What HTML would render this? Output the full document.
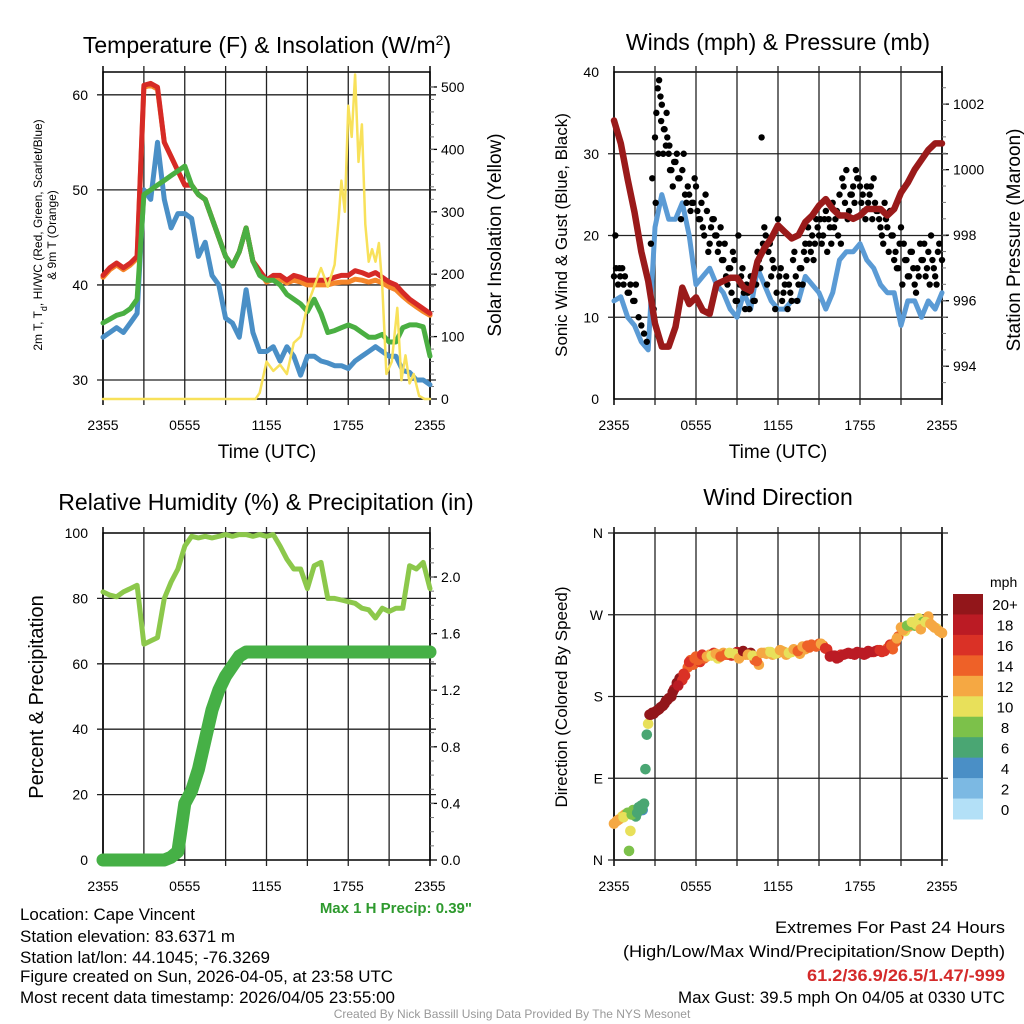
<!DOCTYPE html>
<html><head><meta charset="utf-8"><style>
html,body{margin:0;padding:0;background:#fff;}
svg{display:block;font-family:"Liberation Sans",Arial,sans-serif;}
</style></head><body>
<svg id="s" width="1024" height="1024" viewBox="0 0 1024 1024" xmlns="http://www.w3.org/2000/svg">
<g id="g1"></g>
<g id="g2"></g>
<g id="g3"></g>
<g id="g4"></g>
<g font-size="23" text-anchor="middle">
<text x="267" y="53">Temperature (F) &amp; Insolation (W/m<tspan font-size="14" baseline-shift="super">2</tspan>)</text>
<text x="778" y="50">Winds (mph) &amp; Pressure (mb)</text>
<text x="266" y="510">Relative Humidity (%) &amp; Precipitation (in)</text>
<text x="778" y="505">Wind Direction</text>
</g>
<g text-anchor="middle">
<text transform="translate(42,235) rotate(-90)" font-size="12">2m T, T<tspan font-size="9" baseline-shift="sub">d</tspan>, HI/WC (Red, Green, Scarlet/Blue)</text>
<text transform="translate(56,235) rotate(-90)" font-size="12">&amp; 9m T (Orange)</text>
<text transform="translate(501,235) rotate(-90)" font-size="19">Solar Insolation (Yellow)</text>
<text x="267" y="458" font-size="19">Time (UTC)</text>
<text transform="translate(567,235) rotate(-90)" font-size="17">Sonic Wind &amp; Gust (Blue, Black)</text>
<text transform="translate(1020,240) rotate(-90)" font-size="19">Station Pressure (Maroon)</text>
<text x="778" y="458" font-size="19">Time (UTC)</text>
<text transform="translate(43,697) rotate(-90)" font-size="20">Percent &amp; Precipitation</text>
<text transform="translate(567,697) rotate(-90)" font-size="17">Direction (Colored By Speed)</text>
</g>
<text x="472" y="913" font-size="15" font-weight="bold" fill="#2e9a2e" text-anchor="end">Max 1 H Precip: 0.39"</text>
<g font-size="17">
<text x="20" y="920" textLength="175" lengthAdjust="spacingAndGlyphs">Location: Cape Vincent</text>
<text x="20" y="942" textLength="215" lengthAdjust="spacingAndGlyphs">Station elevation: 83.6371 m</text>
<text x="20" y="963" textLength="250" lengthAdjust="spacingAndGlyphs">Station lat/lon: 44.1045; -76.3269</text>
<text x="20" y="982" textLength="373" lengthAdjust="spacingAndGlyphs">Figure created on Sun, 2026-04-05, at 23:58 UTC</text>
<text x="20" y="1003" textLength="375" lengthAdjust="spacingAndGlyphs">Most recent data timestamp: 2026/04/05 23:55:00</text>
</g>
<g font-size="17" text-anchor="end">
<text x="1005" y="933" textLength="230" lengthAdjust="spacingAndGlyphs">Extremes For Past 24 Hours</text>
<text x="1005" y="957" textLength="382" lengthAdjust="spacingAndGlyphs">(High/Low/Max Wind/Precipitation/Snow Depth)</text>
<text x="1005" y="981" font-weight="bold" fill="#d42a2a" textLength="198" lengthAdjust="spacingAndGlyphs">61.2/36.9/26.5/1.47/-999</text>
<text x="1005" y="1003" textLength="327" lengthAdjust="spacingAndGlyphs">Max Gust: 39.5 mph On 04/05 at 0330 UTC</text>
</g>
<text x="512" y="1018" font-size="12" fill="#999" text-anchor="middle">Created By Nick Bassill Using Data Provided By The NYS Mesonet</text>
</svg>
<script>
// ---- data ----
const hours = [0,0.5,1,1.5,2,2.5,3,3.5,4,4.5,5,5.5,6,6.5,7,7.5,8,8.5,9,9.5,10,10.5,11,11.5,12,12.5,13,13.5,14,14.5,15,15.5,16,16.5,17,17.5,18,18.5,19,19.5,20,20.5,21,21.5,22,22.5,23,23.5,24];
const timeTicks = ["2355","0555","1155","1755","2355"];
const tempT = [41,41.8,42.3,41.8,42.3,43,61,61.2,60.8,55,53.5,52,50.5,50.5,49.5,49,47,45,43,42,43.5,46,42.5,41.5,40.5,41,41,40.5,41,40.8,40.5,40.5,40.5,40.5,40.8,41,41,41.5,41.3,41,41.3,40.8,40.3,40,39.2,38.5,38,37.5,37];
const temp9m = [40.8,41.6,42.1,41.6,42.1,42.8,60.8,61,60.6,55,53.5,52,50.5,50.5,49.5,49,47,45,43,42,43.5,46,42.5,41.5,40.3,40.6,40.6,40.2,40.5,40.3,40,40,40,40,40.2,40.3,40.3,40.6,40.5,40.3,40.5,40.2,39.8,39.5,38.8,38.2,37.7,37.2,36.8];
const tempHI = [36,36.4,36.8,37,37.5,38.5,49.5,50,50.5,51,51.5,52,52.5,50.5,49.5,49,47,45,43,42,43.5,46,42.5,41,40.5,40.5,40,39,38.5,38,37.2,38.5,37,35,35.2,35.5,35.8,35.5,35,34.5,34.5,34.8,34,34,35.5,35.8,35.8,35.6,32.5];
const tempTd = [34.5,35,35.5,35,36,37,50,49,55,49,46,47.5,47.5,47,43,44.5,41,40,36.5,36,34.5,39.5,35,33,33,33.5,32,33.5,32.5,30.5,32.5,32.5,32,31.8,31.5,31.5,31.2,32,32.5,33,33.5,33,32.5,32.5,31,30.8,30,30,29.5];
const solarHours = [0,11.2,11.5,12,12.5,13,13.5,14,14.5,15,15.5,16,16.5,17,17.3,17.5,17.75,18,18.25,18.5,18.75,19,19.25,19.5,19.75,20,20.25,20.5,20.8,21.2,21.6,21.9,22.2,22.5,22.8,23.2,23.6,24];
const solar = [0,0,10,60,45,55,40,90,100,150,180,210,180,215,290,350,300,470,420,520,380,440,280,220,240,220,250,180,40,60,146,30,70,25,40,5,0,0];
const wind = [12,12.5,10,9,7,6,21,25,22,22,24,20,14,15,16,14,13,11,10,13,11,16,14,12,11,11,12,12,15,14,13,11,13,17,18,18,19,17,16,14,13,13,9,12,12,10,12,11,13];
const pressure = [1001.5,1000.8,999.7,998.7,997.5,996.6,995.3,994.6,994.6,995.2,996.4,995.9,996.1,995.7,995.6,996.5,996.6,996.7,996.7,996.4,996.3,997.2,997.6,997.9,998.3,998.1,997.9,998,998.4,998.6,998.9,999.1,998.8,998.6,998.6,998.5,998.6,998.8,998.8,998.8,998.6,998.8,999.3,999.6,1000,1000.3,1000.6,1000.8,1000.8];
const gustHours = [0,0.15,0.3,0.45,0.6,0.8,1,1.2,1.4,1.6,1.8,2,2.2,2.4,2.7,2.8,3,3.1,3.2,3.3,3.4,3.5,3.6,3.7,3.8,3.9,4,4.1,4.3,4.5,4.7,4.9,5.1,5.3,5.5,5.7,5.9,6.1,6.3,6.5,6.7,6.9,7.1,7.3,7.5,7.7,7.9,8.1,8.3,8.5,8.7,8.9,9.1,9.3,9.5,9.7,9.9,10.1,10.3,10.5,10.7,10.8,11,11.2,11.4,11.6,11.8,12,12.2,12.4,12.6,12.8,13,13.2,13.4,13.6,13.8,14,14.2,14.4,14.6,14.8,15,15.2,15.4,15.6,15.8,16,16.2,16.4,16.6,16.8,17,17.2,17.4,17.6,17.8,18,18.2,18.4,18.6,18.8,19,19.2,19.4,19.6,19.8,20,20.2,20.4,20.6,20.8,21,21.2,21.4,21.6,21.8,22,22.2,22.4,22.6,22.8,23,23.2,23.4,23.6,23.8,24,
0.1,0.4,0.7,1.1,1.5,2.9,3.05,3.25,3.45,3.65,3.85,4.05,4.2,4.4,4.6,4.8,5,5.2,5.4,5.6,5.8,6,6.2,6.4,6.6,6.8,7,7.2,7.4,7.6,7.8,8,8.2,8.4,8.6,8.8,9,9.2,9.4,9.6,9.8,10,10.2,10.4,10.6,10.9,11.1,11.3,11.5,11.7,11.9,12.1,12.3,12.5,12.7,12.9,13.1,13.3,13.5,13.7,13.9,14.1,14.3,14.5,14.7,14.9,15.1,15.3,15.5,15.7,15.9,16.1,16.3,16.5,16.7,16.9,17.1,17.3,17.5,17.7,17.9,18.1,18.3,18.5,18.7,18.9,19.1,19.3,19.5,19.7,19.9,20.1,20.3,20.5,20.7,20.9,21.1,21.3,21.5,21.7,21.9,22.1,22.3,22.5,22.7,22.9,23.1,23.3,23.5,23.7,23.9];
const gust = [15,16,14,15,16,15,13,14,12,14,10,9,8,7,19,27,32,35,38,39,37,36,30,33,31,32,30,28,26,29,27,22,30,24,25,24,27,23,22,21,25,18,21,22,20,19,17,19,14,16,18,12,20,15,13,14,11,15,12,18,16,32,21,14,19,17,11,22,16,13,15,14,12,18,12,16,14,19,21,18,17,22,20,19,22,18,21,24,22,20,19,26,28,23,25,24,27,26,25,22,24,26,27,23,22,20,24,21,23,20,18,16,21,19,17,15,18,14,16,19,17,15,18,20,16,14,19,17,20,
16,14,13,12,11,24,30,34,33,35,31,28,29,30,27,28,25,26,23,24,26,22,24,20,23,19,22,20,18,21,17,15,16,13,17,12,14,16,11,13,15,12,14,17,19,20,18,15,16,13,15,12,14,11,13,17,15,14,16,18,17,19,20,19,21,22,20,23,22,19,21,23,25,27,24,22,25,26,28,27,24,23,26,25,22,24,23,21,19,22,18,20,17,16,19,14,17,15,18,16,13,15,17,19,16,14,17,15,18];
const rh = [82,81,80.5,82,83,84,66,67,68,80,85,89,96,99,98.5,99,98.5,99,99.5,99,99.5,99.5,99,99.5,99,99.5,96,92,89,89,83,90,91,80,80,79.5,79,78.5,77,76.5,74,77,76,77,77,90,89,91,83];
const precip = [0,0,0,0,0,0,0,0,0,0,0.02,0.06,0.4,0.49,0.64,0.85,1.06,1.2,1.3,1.37,1.44,1.47,1.47,1.47,1.47,1.47,1.47,1.47,1.47,1.47,1.47,1.47,1.47,1.47,1.47,1.47,1.47,1.47,1.47,1.47,1.47,1.47,1.47,1.47,1.47,1.47,1.47,1.47,1.47];
const dirHours = [0,0.2,0.4,0.6,0.8,1,1.1,1.2,1.4,1.6,1.8,2,2.1,2.2,2.3,2.4,2.5,2.6,2.8,3,3.2,3.4,3.6,3.8,4,4.2,4.4,4.6,4.8,5,5.2,5.4,5.6,5.8,6,6.3,6.6,7,7.3,7.6,8,8.3,8.6,9,9.3,9.6,10,10.3,10.6,11,11.3,11.6,12,12.3,12.6,13,13.3,13.6,14,14.3,14.6,15,15.3,15.6,16,16.3,16.6,17,17.3,17.6,18,18.3,18.6,19,19.3,19.6,20,20.2,20.4,20.6,20.8,21,21.3,21.6,22,22.3,22.6,23,23.3,23.6,24,
0.3,0.7,1.3,1.7,2.05,2.7,2.9,3.1,3.3,3.5,3.7,3.9,4.3,4.7,5.1,5.5,5.9,6.15,6.45,6.8,7.15,7.45,7.8,8.15,8.45,8.8,9.15,9.45,9.8,10.15,10.45,10.8,11.15,11.45,11.8,12.15,12.45,12.8,13.15,13.45,13.8,14.15,14.45,14.8,15.15,15.45,15.8,16.15,16.45,16.8,17.15,17.45,17.8,18.15,18.45,18.8,19.15,19.45,19.8,20.3,20.7,21.15,21.45,21.8,22.15,22.45,22.8,23.15,23.45,23.8];
const dirDeg = [40,43,45,48,50,52,10,32,55,48,58,60,55,62,100,138,150,160,162,163,165,168,170,175,178,180,188,195,200,198,203,212,220,215,224,218,222,226,228,222,228,226,225,229,227,226,228,220,215,228,229,226,228,230,226,229,231,227,232,234,236,238,236,232,225,222,226,227,227,226,228,226,230,229,231,229,233,237,232,240,246,256,252,257,258,266,262,268,258,255,250,
44,47,50,52,56,160,161,164,166,169,172,176,185,192,205,218,222,220,226,224,225,227,224,226,228,227,222,230,226,225,219,228,227,229,227,231,229,228,232,230,235,236,237,235,238,233,224,225,223,226,228,227,229,228,227,229,230,231,230,236,244,253,258,262,259,254,262,260,256,252];
const dirSpd = [12,12,13,10,12,9,8,10,8,7,6,7,5,7,6,7,10,20,20,21,20,22,21,22,20,20,18,20,21,17,16,15,15,14,14,16,15,12,17,11,12,16,17,19,10,12,20,14,12,12,11,13,12,10,13,11,12,13,12,14,15,14,14,16,18,18,17,18,18,19,18,19,18,17,16,17,15,16,14,15,14,13,10,12,9,11,8,13,12,11,12,
12,11,8,7,6,20,21,22,21,20,22,21,20,19,17,16,14,15,17,13,11,12,15,14,10,11,13,20,12,11,15,12,13,10,11,12,13,11,12,14,13,14,15,14,13,17,18,19,18,18,19,19,18,18,19,18,18,17,16,15,13,12,9,11,10,12,11,13,12,12];
const speedLevels = ["0","2","4","6","8","10","12","14","16","18","20+"];
const speedColors = ["#b3e0f7","#7cb9e3","#4a8fc6","#4aa673","#7cc14a","#e8e05a","#f5a843","#ee6128","#da3126","#bb1b24","#92161a"];
// ---- helpers ----
const NS="http://www.w3.org/2000/svg";
function mk(tag,parent,attrs){const e=document.createElementNS(NS,tag);for(const k in attrs)e.setAttribute(k,attrs[k]);parent.appendChild(e);return e;}
function txt(parent,x,y,s,size,anchor){const t=mk('text',parent,{x:x,y:y,'font-size':size,'text-anchor':anchor});t.textContent=s;return t;}
const L1=103,R1=430,L2=614,R2=942,T1=72,B1=399,T2=533,B2=860;
function xs(L,R){return h=>L+h*(R-L)/24;}
function ys(T,B,lo,hi){return v=>B-(v-lo)*(B-T)/(hi-lo);}
function frame(g,L,R,T,B){
  const f=mk('rect',g,{x:L,y:T,width:R-L,height:B-T,fill:'none',stroke:'#000','stroke-width':1.5});
  
  
  const x=xs(L,R);
  for(let h=3;h<24;h+=3){const l=mk('line',g,{x1:x(h),x2:x(h),y1:T-6,y2:B+6,stroke:'#222','stroke-width':1.3});
    
    }
  for(let i=0;i<timeTicks.length;i++){const t=txt(g,x(i*6),B+31,timeTicks[i],14,'middle');
    
    }
  mk('line',g,{x1:L,x2:L,y1:T-6,y2:B+6,stroke:'#000','stroke-width':1.5});
  mk('line',g,{x1:R,x2:R,y1:T-6,y2:B+6,stroke:'#000','stroke-width':1.5});
}
function hgrid(g,L,R,y){const l=mk('line',g,{x1:L-6,x2:R+6,y1:y,y2:y,stroke:'#222','stroke-width':1.3});
  
  }
function line(g,xa,ya,x,y,color,w,name){
  let d='';for(let i=0;i<xa.length;i++)d+=(i?'L':'M')+x(xa[i]).toFixed(1)+','+y(ya[i]).toFixed(1);
  const p=mk('path',g,{d:d,fill:'none',stroke:color,'stroke-width':w,'stroke-linejoin':'round','stroke-linecap':'round'});
  
  
}
function rtick(g,R,y,label){mk('line',g,{x1:R,x2:R+7,y1:y,y2:y,stroke:'#000','stroke-width':1.3});
  const t=txt(g,R+11,y+5,label,14,'start');
  
  }
function ltick(g,L,y,label){const t=txt(g,L-15,y+5,label,14,'end');
  
  }
function colorFor(s){let i=Math.min(10,Math.max(0,Math.floor(s/2)));return speedColors[i];}
// ---- panel 1 ----
(function(){const g=document.getElementById('g1');const x=xs(L1,R1);const y=ys(T1,B1,28,62.4);const ys2=ys(T1,B1,0,524);
  frame(g,L1,R1,T1,B1);
  [30,40,50,60].forEach(v=>{hgrid(g,L1,R1,y(v));ltick(g,L1,y(v),String(v));});
  [0,100,200,300,400,500].forEach(v=>rtick(g,R1,ys2(v),String(v)));
  for(let v=20;v<520;v+=20){mk('line',g,{x1:R1,x2:R1+4,y1:ys2(v),y2:ys2(v),stroke:'#777'});}
  line(g,hours,tempTd,x,y,'#4a8fc6',5,'dewpoint-line');
  line(g,hours,temp9m,x,y,'#f5862a',5,'temp-9m-line');
  line(g,hours,tempT,x,y,'#d62a26',5,'temp-2m-line');
  line(g,hours,tempHI,x,y,'#4aaf42',5,'heat-index-windchill-line');
  line(g,solarHours,solar,x,ys2,'#f8e15a',2.5,'solar-insolation-line');
})();
// ---- panel 2 ----
(function(){const g=document.getElementById('g2');const x=xs(L2,R2);const y=ys(T1,B1,0,40);const yp=ys(T1,B1,993,1002.98);
  frame(g,L2,R2,T1,B1);
  [10,20,30].forEach(v=>hgrid(g,L2,R2,y(v)));
  [0,10,20,30,40].forEach(v=>ltick(g,L2,y(v),String(v)));
  for(let v=994;v<=1002;v+=2)rtick(g,R2,yp(v),String(v));
  for(let v=993.5;v<1003;v+=0.5){mk('line',g,{x1:R2,x2:R2+4,y1:yp(v),y2:yp(v),stroke:'#777'});}
  line(g,hours,wind,x,y,'#5b9bd5',5,'sonic-wind-line');
  for(let i=0;i<gust.length;i++){const c=mk('circle',g,{cx:x(gustHours[i]),cy:y(gust[i]),r:3.2,fill:'#000'});
    
    }
  line(g,hours,pressure,x,yp,'#9a1a1a',6.5,'pressure-line');
})();
// ---- panel 3 ----
(function(){const g=document.getElementById('g3');const x=xs(L1,R1);const y=ys(T2,B2,0,100);const yp=ys(T2,B2,0,2.311);
  frame(g,L1,R1,T2,B2);
  [20,40,60,80].forEach(v=>hgrid(g,L1,R1,y(v)));
  [0,20,40,60,80,100].forEach(v=>ltick(g,L1,y(v),String(v)));
  for(let v=0;v<=2.01;v+=0.4)rtick(g,R1,yp(v),v.toFixed(1));
  for(let v=0.1;v<2.3;v+=0.1){mk('line',g,{x1:R1,x2:R1+4,y1:yp(v),y2:yp(v),stroke:'#777'});}
  line(g,hours,rh,x,y,'#8cc84b',5,'relative-humidity-line');
  line(g,hours,precip,x,yp,'#46b046',13,'precipitation-line');
})();
// ---- panel 4 ----
(function(){const g=document.getElementById('g4');const x=xs(L2,R2);const y=ys(T2,B2,0,360);
  frame(g,L2,R2,T2,B2);
  [90,180,270].forEach(v=>hgrid(g,L2,R2,y(v)));
  hgrid(g,L2,R2,y(360));hgrid(g,L2,R2,y(0));
  ["N","E","S","W","N"].forEach((s,i)=>ltick(g,L2+4,y(i*90),s));
  for(let i=0;i<dirDeg.length;i++){const c=mk('circle',g,{cx:x(dirHours[i]),cy:y(dirDeg[i]),r:5.3,fill:colorFor(dirSpd[i])});
    
    }
  const lg=mk('g',g,{});
  
  
  txt(lg,990,587,'mph',14,'start');
  const bh=225/11;
  for(let i=0;i<11;i++){const k=10-i;const yy=594+i*bh;
    const r=mk('rect',lg,{x:953,y:yy,width:30,height:bh+0.5,fill:speedColors[k]});
    
    
    const t=txt(lg,1005,yy+bh/2+6,speedLevels[k],15,'middle');
    
    }
})();
</script>
</body></html>
